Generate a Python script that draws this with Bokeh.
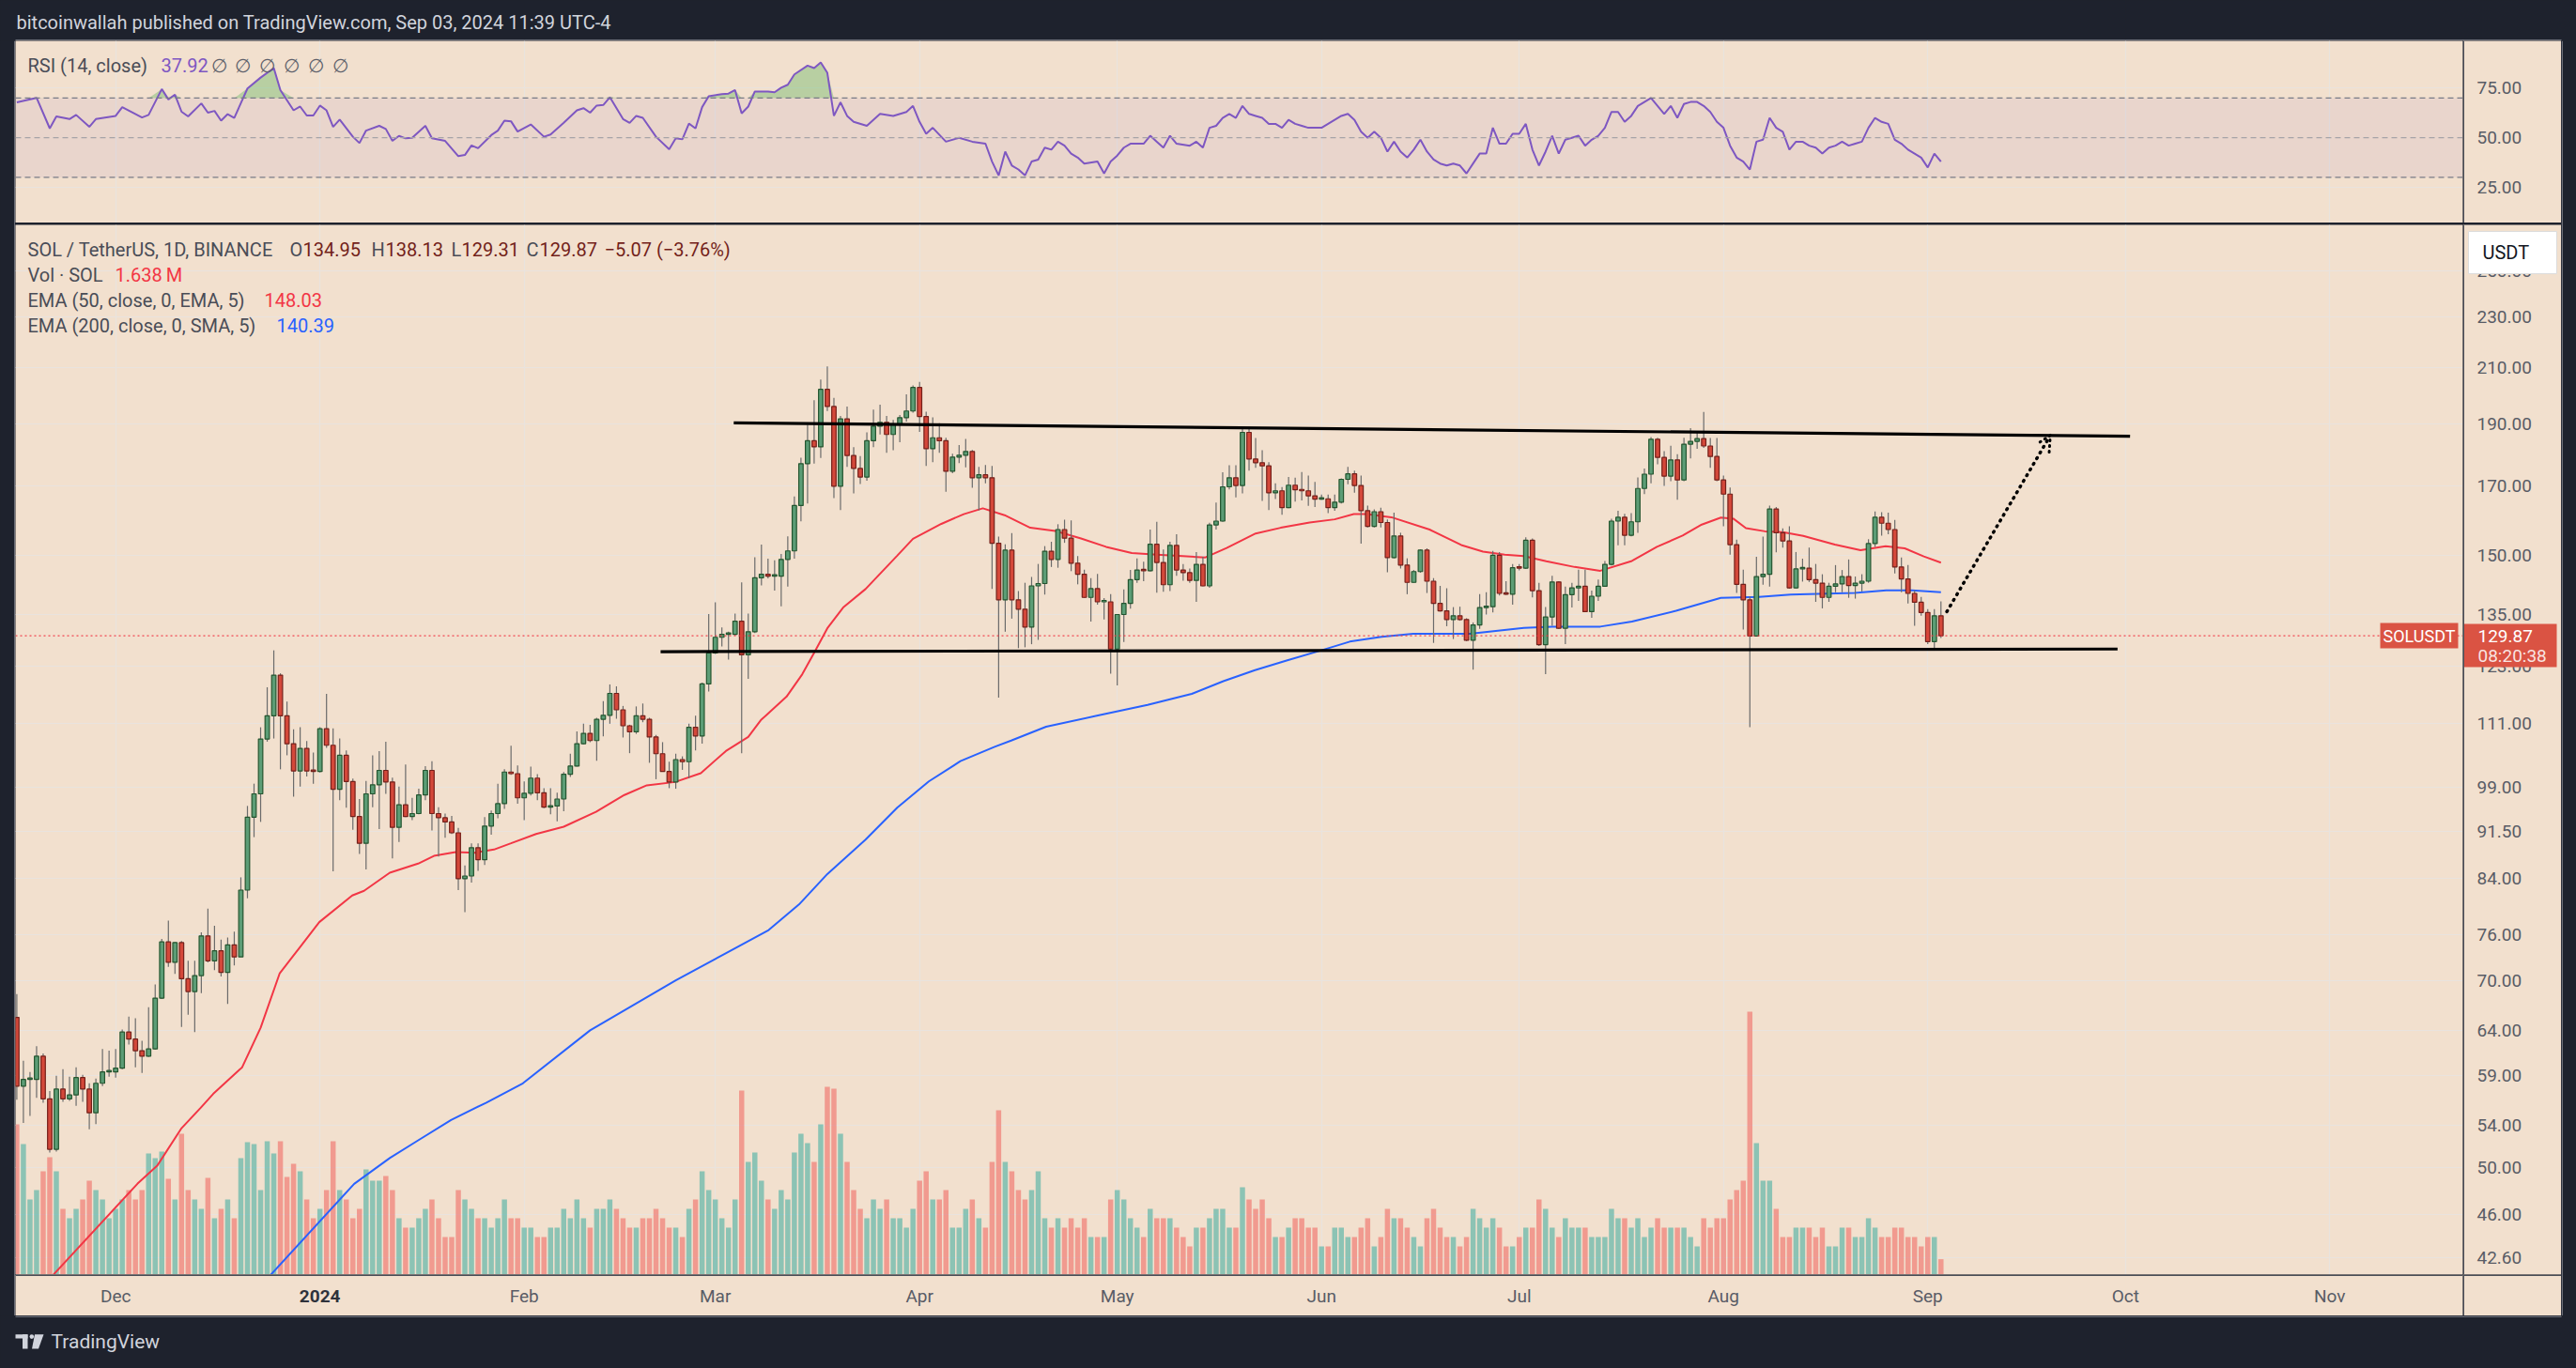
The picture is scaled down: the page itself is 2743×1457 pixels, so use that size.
import numpy as np
import pandas as pd
from bokeh.plotting import figure
from bokeh.models import (Range1d, FixedTicker, Span, BoxAnnotation, Label, Arrow, OpenHead,
                          ColumnDataSource, LinearScale)
from bokeh.layouts import column, row
from bokeh.embed import file_html
from bokeh.resources import INLINE
from bokeh.core.properties import value

# ---------------- data ----------------
start_date = "2023-11-16"
first_open = 65.5
closes = [57.9, 58.6, 58.6, 61.1, 56.6, 51.7, 57.6, 56.6, 57.0, 58.8, 57.6, 55.2, 58.2, 59.4, 59.4,
          59.8, 63.8, 63.0, 61.7, 61.1, 61.9, 67.8, 75.0, 72.3, 74.9, 70.2, 68.6, 70.6, 75.8, 72.5,
          73.8, 71.0, 74.6, 73.0, 82.3, 93.8, 97.8, 107.9, 112.5, 121.0, 112.5, 107.0, 101.9, 106.1, 101.9, 101.8,
          109.9, 106.7, 98.6, 104.8, 100.0, 93.9, 89.5, 97.8, 99.4, 102.0, 99.9, 92.1, 95.9, 93.9,
          94.4, 97.6, 102.0, 94.4, 93.7, 93.0, 91.2, 84.0, 84.4, 88.8, 86.9, 92.3, 94.4, 96.1, 101.7,
          101.4, 97.1,
          97.9, 100.6, 98.0, 95.5, 95.7, 96.9, 101.3, 102.8, 107.0, 109.0, 107.6, 111.8, 112.6, 117.1,
          113.7, 110.5, 109.3, 112.5, 111.8, 108.3, 105.1, 101.8, 99.9, 104.0, 103.6, 110.2, 108.5, 119.1, 125.9,
          129.5, 130.2, 130.2, 133.3, 125.5, 130.8, 144.1, 145.0, 144.5, 144.5, 148.9, 151.2, 164.0, 176.8,
          184.2, 182.2, 202.0, 195.9, 169.8, 191.6, 179.4, 175.3, 172.6, 184.2, 189.1, 190.4, 186.3, 189.8,
          192.0, 194.3, 202.7,
          192.4, 181.6, 185.2, 184.2, 174.4, 178.9, 179.5, 180.7, 172.4, 173.3, 172.4, 153.3, 138.5, 151.4,
          138.5, 136.2, 131.9, 142.0, 142.6, 151.1, 148.9, 157.1, 154.7, 147.9, 145.0, 139.1, 141.3, 138.0,
          138.0, 126.8,
          134.9, 137.6, 143.6, 146.1, 145.9, 153.0, 148.1, 142.3, 152.7, 146.1, 145.4, 143.4, 147.6, 142.0,
          158.4, 159.5, 169.6, 172.4, 170.0, 187.0, 178.3, 177.1, 176.1, 167.8, 168.4, 163.4, 170.1, 168.7,
          168.4, 166.9, 165.9,
          166.0, 163.4, 165.0, 171.9, 173.6, 170.0, 162.5, 158.0, 162.2, 159.1, 149.4, 155.3, 147.4, 142.9,
          145.7, 151.4, 143.2, 137.6, 135.8, 133.7, 134.6, 133.7, 128.8, 132.4, 136.6, 136.8, 150.0, 140.1,
          139.9, 146.7,
          146.6, 154.1, 140.8, 127.8, 134.3, 143.0, 131.6, 139.8, 141.5, 141.9, 135.6, 139.4, 141.9, 147.6,
          159.5, 160.6, 155.5, 159.3, 169.1, 173.5, 184.7, 178.8, 172.9, 178.0, 171.7, 183.1, 184.0, 184.9,
          182.5, 179.1, 171.7,
          167.4, 152.9, 142.4, 138.5, 129.8, 144.4, 145.0, 163.0, 156.2, 153.9, 141.5, 146.4, 146.6, 143.6,
          142.7, 139.1, 141.9, 142.5, 144.4, 142.1, 142.7, 143.2, 153.2, 160.6, 158.9, 157.1, 146.9, 143.8,
          140.1, 137.9, 135.4,
          128.5, 134.6, 129.87]
highs = [68.3, 60.6, 59.4, 62.2, 61.4, 57.4, 59.0, 59.7, 58.9, 59.9, 59.1, 58.2, 58.7, 61.9, 61.7,
         61.9, 64.1, 65.6, 65.4, 62.8, 66.7, 69.5, 75.4, 77.9, 75.0, 75.1, 72.5, 72.5, 76.3, 79.6,
         77.2, 75.3, 75.6, 76.4, 84.2, 95.7, 99.6, 110.2, 118.4, 126.5, 121.4, 115.4, 109.8, 110.2, 107.5, 105.3,
         110.2, 117.0, 110.0, 108.0, 105.7, 100.5, 96.9, 100.1, 104.8, 105.6, 107.4, 100.7, 99.1, 103.1,
         97.1, 98.7, 102.8, 103.7, 95.5, 94.4, 94.0, 92.0, 86.0, 89.5, 89.5, 93.8, 94.9, 99.6, 102.2,
         106.6, 102.9,
         100.0, 102.7, 101.3, 98.8, 98.8, 98.0, 101.7, 105.1, 109.4, 110.9, 110.7, 112.1, 115.5, 119.0,
         118.6, 114.5, 110.7, 114.4, 115.0, 112.1, 108.7, 107.3, 103.6, 105.1, 104.6, 110.9, 112.5, 119.4, 135.0,
         137.9, 131.8, 130.8, 135.1, 142.9, 135.1, 149.5, 152.9, 149.1, 148.7, 150.4, 155.2, 166.7, 178.7,
         189.6, 198.1, 205.6, 210.5, 198.9, 192.6, 195.9, 182.1, 179.2, 187.0, 194.8, 196.5, 192.6, 191.2,
         192.9, 200.2, 203.4,
         204.7, 194.1, 192.1, 190.1, 185.2, 180.0, 182.8, 184.8, 181.2, 175.8, 176.4, 176.1, 155.1, 153.0,
         156.1, 140.7, 142.8, 144.3, 147.7, 152.5, 153.7, 158.6, 159.9, 159.7, 149.8, 146.2, 144.0, 145.1,
         138.9, 139.9,
         135.0, 141.1, 146.1, 149.2, 148.3, 157.1, 159.3, 151.6, 153.7, 155.8, 147.7, 146.5, 150.9, 149.6,
         159.0, 164.9, 174.1, 176.3, 176.3, 188.4, 188.8, 185.1, 181.1, 177.3, 170.7, 169.5, 172.6, 172.4,
         174.2, 173.1, 171.1,
         167.3, 167.3, 167.3, 172.2, 175.8, 174.6, 173.1, 164.0, 162.9, 163.4, 160.0, 161.9, 156.2, 149.2,
         146.1, 151.6, 151.9, 144.0, 142.0, 141.4, 136.7, 136.8, 134.0, 133.0, 139.9, 140.4, 151.2, 150.9,
         143.2, 147.7,
         147.7, 154.9, 154.6, 142.8, 136.7, 144.6, 143.2, 141.8, 142.8, 146.2, 146.2, 140.8, 143.6, 148.5,
         160.2, 162.5, 161.6, 161.8, 172.5, 175.3, 185.4, 185.2, 180.8, 182.6, 179.8, 185.2, 188.4, 187.0,
         194.0, 185.1, 185.1,
         173.1, 169.4, 154.3, 146.2, 139.4, 149.6, 155.1, 164.0, 163.6, 157.4, 158.0, 150.9, 149.1, 152.1,
         147.7, 145.0, 142.8, 147.4, 146.1, 148.9, 144.4, 145.0, 154.4, 162.3, 162.1, 161.9, 159.8, 149.4,
         147.4, 140.9, 139.2,
         136.2, 136.2, 138.13]
lows = [56.5, 54.2, 54.9, 56.7, 56.2, 51.4, 51.5, 56.3, 56.4, 55.9, 56.3, 53.6, 54.1, 57.9, 58.9,
        58.8, 59.7, 62.4, 59.9, 59.3, 61.0, 61.8, 67.7, 71.7, 70.8, 64.4, 65.8, 63.8, 68.4, 72.3,
        71.3, 70.5, 67.1, 71.9, 73.0, 81.1, 90.5, 93.0, 107.4, 108.0, 102.2, 104.8, 97.3, 99.1, 100.9, 99.6,
        101.6, 106.2, 85.1, 96.7, 95.4, 91.7, 87.8, 85.4, 95.5, 91.8, 97.8, 87.1, 89.7, 93.8,
        93.3, 94.3, 96.7, 91.6, 87.4, 90.4, 91.0, 82.3, 79.1, 83.4, 85.2, 86.1, 90.9, 93.6, 95.2,
        101.2, 96.1,
        93.3, 97.5, 96.7, 95.3, 94.3, 93.1, 94.8, 100.8, 102.7, 106.9, 107.3, 103.8, 108.4, 110.9,
        111.9, 108.2, 105.2, 108.9, 111.2, 103.4, 100.4, 101.8, 98.8, 98.7, 102.1, 100.6, 105.7, 107.0, 117.5,
        125.7, 127.4, 124.4, 129.9, 105.2, 120.2, 130.5, 142.1, 143.9, 140.8, 136.9, 141.8, 149.1, 159.4,
        164.6, 176.8, 178.6, 194.3, 166.2, 162.7, 175.8, 167.6, 170.5, 171.5, 182.1, 186.3, 180.3, 181.1,
        183.7, 190.7, 193.7,
        187.2, 176.1, 177.3, 180.3, 168.1, 173.8, 177.0, 175.6, 169.3, 162.6, 170.7, 141.2, 116.2, 130.8,
        133.9, 127.0, 127.2, 127.9, 128.9, 139.8, 146.9, 146.7, 153.4, 145.8, 142.4, 139.0, 133.2, 137.3,
        133.7, 121.3,
        118.8, 128.4, 136.3, 142.8, 143.2, 145.7, 140.3, 140.5, 140.7, 144.6, 143.3, 142.8, 138.0, 141.9,
        141.5, 157.1, 159.3, 168.8, 166.4, 167.6, 174.6, 175.5, 165.4, 162.7, 165.9, 161.3, 163.2, 165.2,
        165.5, 163.9, 163.6,
        165.7, 161.8, 162.5, 164.6, 170.4, 167.8, 153.2, 157.7, 157.7, 157.7, 145.5, 149.2, 146.5, 139.9,
        142.8, 145.4, 140.2, 128.2, 135.6, 132.1, 129.1, 133.4, 128.6, 122.2, 131.5, 134.9, 135.4, 139.6,
        139.7, 137.3,
        146.0, 146.4, 139.1, 127.5, 121.2, 132.2, 131.4, 127.9, 136.6, 138.2, 135.6, 134.1, 138.2, 141.8,
        147.3, 152.7, 152.7, 155.2, 156.2, 167.4, 170.7, 176.6, 169.9, 171.3, 165.7, 171.3, 178.5, 181.6,
        181.9, 175.5, 171.3,
        158.0, 150.2, 140.2, 131.3, 110.2, 129.7, 142.3, 141.8, 150.8, 152.1, 141.3, 141.3, 143.1, 143.0,
        138.0, 136.4, 138.0, 140.4, 140.4, 139.0, 138.8, 140.6, 142.8, 152.3, 155.4, 155.8, 145.2, 140.4,
        137.6, 132.2, 134.6,
        127.9, 127.0, 129.31]
volumes_m = [16, 13.9, 8, 9, 11, 12.5, 11, 7, 6, 7, 8, 10, 9, 8, 6,
             7, 8, 9, 8, 9, 12.9, 12.4, 13.1, 10.2, 8, 15, 9, 8, 7, 10.3, 6, 7, 8, 6, 12.4,
             14.1, 13.9, 9, 14.2, 12.9, 14.2, 10.4, 11.8, 11, 8, 6,
             7, 9, 14.2, 9, 8, 6, 7, 11.2, 10, 10, 10.5, 9, 6, 5, 5, 6, 7, 8, 6, 4,
             4, 9, 8, 7, 6, 6, 5, 6, 8, 6, 6,
             5, 5, 4, 4, 5, 5, 7, 6, 8, 6, 5, 7, 7, 8, 7, 6, 5, 5, 6, 6, 7, 6, 5, 5, 4, 7, 8, 11, 9,
             8, 6, 5, 8, 19.6, 12, 13, 10, 8, 7, 9, 8, 13, 15, 14, 12, 16, 20, 19.8, 15,
             12, 9, 7, 6, 8, 7, 8, 6, 6, 5, 7,
             10, 11, 8, 8, 9, 5, 5, 7, 8, 6, 5, 12, 17.5, 12, 11, 9, 8, 9, 11, 6, 5, 6, 5, 6, 5, 6, 4, 4, 4, 8,
             9, 8, 6, 5, 4, 7, 6, 6, 6, 5, 4, 3, 5, 5, 6, 7, 7, 5, 5, 9.3, 8, 7, 8, 6, 4, 4, 5, 6, 6, 5, 5,
             3, 3, 5, 5, 4, 4, 5, 6, 3, 4, 7, 6, 6, 5, 4, 3, 6, 7, 5, 4, 4, 3, 4, 7, 6, 5, 6, 5, 3, 3,
             4, 5, 5, 8, 7, 5, 4, 6, 5, 5, 5, 4, 4, 4, 7, 6, 6, 5, 6, 4, 5, 6, 5, 5, 5, 5, 4, 3, 6, 5, 6,
             6, 8, 9, 10, 28, 14, 10, 10, 7, 4, 4, 5, 5, 5, 4, 5, 3, 3, 5, 5, 4, 4, 6, 5, 4, 4, 5, 5, 4, 4, 3,
             4, 4, 1.638]

# indicator lines (day offset from 2023-12-01, value)
ema50_day = [-10, 3.3, 6.3, 10, 12.9, 14.8, 19.2, 22, 24.9, 27.8, 30.9, 35.9, 37.7, 41.6, 45.9, 48.3, 51.6,
             54.5, 57.4, 60, 63.8, 68, 72.9, 77.2, 80.6, 84.9, 88.8, 92.6, 96, 97.9, 101.8, 104.2, 106.1, 108,
             110.4, 113.8, 118.6, 121, 125.3, 128.7, 131.6, 134.9, 138.8, 142.6, 146.5, 150.3, 154.2, 158,
             161.9, 165.3, 168.6, 173, 176.8, 181.2, 185, 187.9, 189.8, 193.6, 199.4, 204.2, 207.5, 210.8,
             213.7, 217.1, 221.4, 225.3, 230.1, 233.9, 237.8, 240.7, 243.6, 245.5, 247.4, 250.3, 253, 256.1,
             260.9, 264.8, 268.6, 271.5, 274.4, 277]
ema50_val = [41.0, 48.6, 50.2, 53.7, 55.7, 57.1, 59.9, 64.3, 70.9, 74.1, 77.7, 81.5, 82.2, 84.9, 86.3, 87.5, 88.1,
             88.0, 88.5, 89.5, 91.0, 92.2, 94.7, 97.6, 99.3, 99.9, 101.5, 105.6, 108.3, 111.6, 116.4, 121.2, 126.2,
             131.6, 136.6, 141.2, 149.9, 154.5, 158.7, 161.5, 163.2, 161.2, 157.6, 156.7, 154.6, 152.3, 150.6,
             150.2, 149.8, 149.4, 152.0, 156.0, 157.6, 159.1, 160.0, 161.5, 161.5, 160.6, 157.1, 152.8, 151.0,
             150.2, 149.8, 148.4, 146.9, 145.9, 148.5, 152.3, 155.4, 158.5, 160.5, 160.2, 157.5, 156.6, 156.4,
             155.3, 152.9, 151.4, 152.5, 151.9, 149.7, 148.03]
ema200_day = [23.0, 36.2, 41.6, 45.8, 50.9, 56.2, 61.8, 72, 85, 99.1, 103.7, 108, 113.8, 118.6, 123.4, 128.2,
              133.4, 135.9, 141.2, 148.9, 156.6, 163.3, 168.1, 172.9, 177.7, 182.5, 187.3, 192.1, 196.9, 205.5,
              213.7, 218, 225.3, 230.1, 236.8, 243.6, 249.4, 254.2, 263.9, 268.7, 272.6, 277]
ema200_val = [41.0, 48.6, 50.9, 52.5, 54.5, 56.2, 58.2, 64.0, 70.0, 76.6, 80.2, 84.7, 90.1, 95.4, 100.0, 103.7,
              106.4, 107.6, 110.3, 112.5, 114.7, 117.0, 119.7, 122.1, 124.2, 126.3, 128.5, 129.6, 130.3, 130.3,
              131.7, 132.0, 132.0, 133.2, 135.8, 139.0, 139.2, 139.8, 140.2, 140.9, 140.9, 140.39]

rsi_day = [-15, -12, -10, -9, -7, -6, -4, -3, 0, 1, 4, 5, 7, 8, 9, 10, 11, 13, 14, 15, 16, 17, 18, 20, 22, 24,
           25, 27, 28, 29, 30, 31, 32, 33, 34, 36, 37, 38, 40, 41, 42, 43, 44, 45, 47, 48, 50, 52, 53, 54, 55,
           57, 58, 59, 60, 61, 63, 65, 66, 68, 70, 71, 72, 73, 74, 75, 77, 78, 79, 80, 82, 84, 85, 86, 87, 88,
           89, 90, 92, 93, 94, 95, 96, 97, 99, 100, 101, 102, 103, 105, 106, 107, 108, 109, 110, 111,
           112, 114, 116, 118, 120, 121, 122, 123, 124, 126, 128, 130, 132, 133, 134, 135, 136, 137, 138, 139,
           140, 141, 142, 143, 144, 145, 146, 147, 149, 150, 151, 152, 153, 154, 156, 157, 158, 159, 160, 161,
           163, 164, 165, 166, 167, 168, 169, 170, 171, 172, 173, 174, 175, 176, 177, 178, 179, 180, 181, 182,
           183, 184, 186, 187, 188, 189, 190, 191, 192, 193, 194, 195, 196, 197, 198, 199, 200, 201, 202, 203,
           204, 205, 206, 207, 208, 209, 210, 211, 212, 213, 214, 215, 216, 217, 218, 219, 220, 221, 222, 223,
           224, 225, 226, 227, 228, 229, 230, 231, 232, 233, 234, 235, 236, 237, 238, 239, 240, 241, 242, 243,
           244, 245, 246, 247, 248, 249, 250, 251, 252, 253, 254, 255, 256, 257, 258, 259, 260, 261, 262, 263,
           264, 265, 266, 267, 268, 269, 270, 271, 272, 273, 274, 275, 276, 277]
rsi_val = [67.8, 70.1, 54.7, 60.7, 59.4, 61.5, 55.5, 59.4, 61, 65.4, 60.2, 61.5, 74.5, 69.3, 71.7, 63.1, 60.7,
           67.3, 62.6, 63.5, 58.6, 61.9, 60, 74.8, 80.3, 85.1, 74, 63.8, 65.7, 61.2, 61.2, 66.2, 63.8, 55.5,
           59.1, 50.5, 47.3, 53.6, 56, 54.4, 48.4, 50.9, 49.7, 50, 56, 49.7, 48.4, 40.7, 41.3, 46.1, 44.7, 51.3,
           53.6, 58.6, 58.3, 53.1, 56.7, 50.5, 51.6, 57.5, 63.8, 64.9, 62.6, 66.2, 66.5, 70.4, 59.4, 57.5, 61,
           60, 50.5, 44.2, 49.7, 49.2, 57.1, 54.7, 65.4, 70.9, 72, 72.2, 74, 62.3, 65.7, 73.3, 73.3, 72.9, 75.2,
           76.7, 81.9, 86.3, 85.1, 87.9, 82.7, 61, 67.8, 61,
           58, 56, 62, 61, 63, 66, 58, 52, 55, 48, 50, 48, 47, 38, 31, 43, 36, 34, 31, 38,
           39, 45, 44, 48, 46, 42, 40, 37, 38, 32, 38, 41, 45, 47, 47, 51, 48, 45, 51, 47,
           46, 48, 45, 55, 56, 60, 62, 60, 66, 62, 61, 60, 57, 57, 55, 59, 57, 56, 55, 55,
           55, 57, 61, 62, 59, 53, 50, 53, 50, 43, 48, 43, 40, 44, 49, 43, 39, 37, 36, 37,
           36, 32, 37, 42, 42, 55, 47, 47, 52, 52, 57, 44, 36, 43, 51, 42, 49, 50, 51, 46,
           49, 51, 55, 63, 63, 58, 61, 66, 68, 70, 66, 62, 66, 60, 67, 68, 68, 66, 63, 58,
           55, 46, 40, 38, 34, 48, 49, 60, 55, 53, 44, 48, 48, 46, 45, 42, 45, 46, 48, 46,
           47, 48, 55, 60, 58, 57, 49, 47, 44, 42, 40, 35, 42, 37.92]

price_ticks = [42.6, 46, 50, 54, 59, 64, 70, 76, 84, 91.5, 99, 111, 123, 135, 150, 170, 190, 210, 230, 250]
rsi_ticks = [25, 50, 75]
month_labels = ["Dec", "2024", "Feb", "Mar", "Apr", "May", "Jun", "Jul", "Aug", "Sep", "Oct", "Nov"]

# user drawings (day offset, price)
upper_line_x = [93.8, 305.7]
upper_line_y = [190.2, 185.7]
lower_line_x = [82.7, 303.8]
lower_line_y = [126.2, 126.8]
arrow_x = [277.9, 293.6]
arrow_y = [135.6, 186.0]
last_price = 129.87

assert len(closes) == len(highs) == len(lows) == len(volumes_m) == 293
assert len(rsi_day) == len(rsi_val)

# ---------------- derived ----------------
base = pd.Timestamp("2023-12-01")
dates = pd.date_range(start_date, periods=len(closes), freq="D")
day = np.asarray((dates - base).days, dtype=float)
c = np.array(closes)
o = np.array([first_open] + closes[:-1])
h = np.array(highs)
l = np.array(lows)
up = c >= o
top = np.maximum(o, c)
bot = np.minimum(o, c)
top = np.maximum(top, bot * 1.0025)
month_starts = pd.date_range("2023-12-01", "2024-11-01", freq="MS")
month_x = [int(v) for v in (month_starts - base).days]

BG = "#f2e0ce"
DARK = "#1e222d"
GRID = "#e9e3de"
AXC = "#595c66"
LEG = "#4a4d57"
EDGE = "#4a4d56"
BORDER = "#6b6e78"
FONT = "Roboto"
W_FRAME = 2606
W_AX = 105
H_MAIN = 1118
XR = Range1d(-15.2, 356.2)
YR = Range1d(41.30, 271.3)

def lab(fig, x, y, text, color=LEG, size="20px", **kw):
    kw.setdefault("x_units", "screen")
    kw.setdefault("y_units", "screen")
    fig.add_layout(Label(x=x, y=y, text=text, text_color=color, text_font=FONT,
                         text_font_size=size, text_baseline="middle", **kw))

def pane(w, hgt, xr, yr, **kw):
    f = figure(width=w, height=hgt, x_range=xr, y_range=yr, x_axis_location=None,
               y_axis_location=None, toolbar_location=None, output_backend="svg",
               background_fill_color=BG, border_fill_color=BG, outline_line_color=None,
               min_border=0, **kw)
    return f

# ---------------- main pane ----------------
main = pane(W_FRAME, H_MAIN, XR, YR, y_axis_type="log")
main.extra_y_ranges = {"vol": Range1d(0, 111.8)}
main.extra_y_scales = {"vol": LinearScale()}
main.xgrid.ticker = FixedTicker(ticks=month_x)
main.ygrid.ticker = FixedTicker(ticks=price_ticks)
main.grid.grid_line_color = GRID
main.grid.grid_line_width = 1.2

vsrc = ColumnDataSource(dict(x=day, v=volumes_m,
                             col=["#26a69a" if u else "#ef5350" for u in up]))
main.vbar(x="x", top="v", bottom=0, width=0.78, fill_color="col", line_color=None,
          fill_alpha=0.5, y_range_name="vol", source=vsrc)

main.line(ema200_day, ema200_val, line_color="#2962ff", line_width=2)
main.line(ema50_day, ema50_val, line_color="#f23645", line_width=2)

main.add_layout(Span(location=last_price, dimension="width", line_color="#f23645",
                     line_dash="2 3", line_width=1.2, line_alpha=0.9))

csrc = ColumnDataSource(dict(x=day, h=h, l=l, top=top, bot=bot,
                             fill=["#5c9d76" if u else "#d4483a" for u in up],
                             edge=["#24552f" if u else "#74201a" for u in up]))
main.segment(x0="x", y0="h", x1="x", y1="l", line_color="#6b6b6b", line_width=1.2, source=csrc)
main.vbar(x="x", top="top", bottom="bot", width=0.66, fill_color="fill", line_color="edge",
          line_width=1.2, source=csrc)

main.line(upper_line_x, upper_line_y, line_color="black", line_width=3.2)
main.line(lower_line_x, lower_line_y, line_color="black", line_width=3.2)
main.add_layout(Arrow(x_start=arrow_x[0], y_start=arrow_y[0], x_end=arrow_x[1], y_end=arrow_y[1],
                      line_color="black", line_width=3.5, line_dash="1 6", line_cap="round",
                      end=OpenHead(size=16, line_width=3, line_color="black", line_dash="1 5",
                                   line_cap="round")))

MAROON = "#731f1a"
lab(main, 13, 1092, "SOL / TetherUS, 1D, BINANCE")
lab(main, 292, 1092, "O")
lab(main, 306, 1092, "134.95", MAROON)
lab(main, 379, 1092, "H")
lab(main, 394, 1092, "138.13", MAROON)
lab(main, 464, 1092, "L")
lab(main, 475, 1092, "129.31", MAROON)
lab(main, 544, 1092, "C")
lab(main, 558, 1092, "129.87", MAROON)
lab(main, 627, 1092, "\u22125.07 (\u22123.76%)", MAROON)
lab(main, 13, 1065, "Vol \u00b7 SOL")
lab(main, 106, 1065, "1.638\u2009M", "#f23645")
lab(main, 13, 1038, "EMA (50, close, 0, EMA, 5)")
lab(main, 265, 1038, "148.03", "#f23645")
lab(main, 13, 1011, "EMA (200, close, 0, SMA, 5)")
lab(main, 278, 1011, "140.39", "#2962ff")
main.add_layout(Label(x=W_FRAME - 5, y=last_price, x_units="screen", y_units="data", text="SOLUSDT",
                      text_font=FONT, text_font_size="18px", text_color="white", text_align="right",
                      text_baseline="middle", background_fill_color="#da5343", padding=3))

# price scale strip (same log mapping as the main pane)
main_ax = pane(W_AX, H_MAIN, Range1d(0, W_AX), YR, y_axis_type="log")
main_ax.grid.visible = False
main_ax.extra_y_ranges = {"px": Range1d(0, H_MAIN)}
main_ax.extra_y_scales = {"px": LinearScale()}
main_ax.text(x=np.full(len(price_ticks), 15.0), y=price_ticks,
             text=[f"{t:.2f}" for t in price_ticks], text_font=value(FONT),
             text_font_size="19px", text_color=AXC, text_baseline="middle")
main_ax.add_layout(Span(location=0.75, dimension="height", line_color=EDGE, line_width=1.5))
main_ax.quad(left=[6], right=[100], bottom=[1066], top=[1111], fill_color="white",
             line_color="#dcdcdc", y_range_name="px")
main_ax.text(x=[21], y=[1089], text=["USDT"], text_font=value(FONT), text_font_size="20px",
             text_color="#131722", text_baseline="middle", y_range_name="px")
main_ax.quad(left=[1], right=[100], bottom=[647], top=[693], fill_color="#da5343",
             line_color=None, y_range_name="px")
main_ax.text(x=[16], y=[last_price], text=[f"{last_price:.2f}"], text_font=value(FONT),
             text_font_size="19px", text_color="white", text_baseline="middle")
main_ax.text(x=[16], y=[659], text=["08:20:38"], text_font=value(FONT), text_font_size="19px",
             text_color="white", text_alpha=0.85, text_baseline="middle", y_range_name="px")

# time scale strip
taxis = pane(W_FRAME, 44, XR, Range1d(0, 44))
taxis.grid.visible = False
reg_x = [mx for mx, lb in zip(month_x, month_labels) if lb != "2024"]
reg_l = [lb for lb in month_labels if lb != "2024"]
taxis.text(x=reg_x, y=np.full(len(reg_x), 21.0), text=reg_l, text_font=value(FONT),
           text_font_size="19px", text_color=AXC, text_align="center", text_baseline="middle")
yr_x = [mx for mx, lb in zip(month_x, month_labels) if lb == "2024"]
taxis.text(x=yr_x, y=[21.0], text=["2024"], text_font=value(FONT), text_font_size="19px",
           text_font_style="bold", text_color="#2f323b", text_align="center", text_baseline="middle")
taxis.add_layout(Span(location=43.25, dimension="width", line_color=EDGE, line_width=1.5))
corner = pane(W_AX, 44, Range1d(0, W_AX), Range1d(0, 44))
corner.grid.visible = False
corner.add_layout(Span(location=0.75, dimension="height", line_color=EDGE, line_width=1.5))
corner.add_layout(Span(location=43.25, dimension="width", line_color=EDGE, line_width=1.5))

# ---------------- RSI pane ----------------
RSI_YR = Range1d(7.05, 98.8)
rsi = pane(W_FRAME, 194, XR, RSI_YR)
rsi.ygrid.ticker = FixedTicker(ticks=[25, 75])
rsi.xgrid.ticker = FixedTicker(ticks=month_x)
rsi.grid.grid_line_color = GRID
rsi.grid.grid_line_width = 1.2

rsi.add_layout(BoxAnnotation(bottom=30, top=70, fill_color="#7e57c2", fill_alpha=0.08,
                             line_alpha=0))
for lvl, colr in ((70, "#787b86"), (50, "#a7a4a8"), (30, "#787b86")):
    rsi.add_layout(Span(location=lvl, dimension="width", line_color=colr, line_dash="6 4",
                        line_width=1.2))
rv = np.array(rsi_val)
rsi.varea(x=rsi_day, y1=np.full(len(rv), 70.0), y2=np.maximum(rv, 70.0),
          fill_color="#4caf50", fill_alpha=0.35)
rsi.line(rsi_day, rsi_val, line_color="#7e57c2", line_width=2)

lab(rsi, 13, 168, "RSI (14, close)")
lab(rsi, 155, 168, "37.92", "#7e57c2")
for k in range(6):
    lab(rsi, 208 + 25.9 * k, 168, "\u2205", "#5d606b")

rsi_ax = pane(W_AX, 194, Range1d(0, W_AX), RSI_YR)
rsi_ax.grid.visible = False
rsi_ax.text(x=np.full(len(rsi_ticks), 15.0), y=rsi_ticks, text=[f"{t:.2f}" for t in rsi_ticks],
            text_font=value(FONT), text_font_size="19px", text_color=AXC, text_baseline="middle")
rsi_ax.add_layout(Span(location=0.75, dimension="height", line_color=EDGE, line_width=1.5))

# ---------------- chrome ----------------
def blank(w, hgt, color=DARK):
    f = figure(width=w, height=hgt, x_range=Range1d(0, w), y_range=Range1d(0, hgt),
               toolbar_location=None, output_backend="svg", background_fill_color=color,
               border_fill_color=color, outline_line_color=None, min_border=0,
               x_axis_location=None, y_axis_location=None)
    f.grid.visible = False
    return f

header = blank(2743, 43)
header.add_layout(Label(x=17, y=20, text="bitcoinwallah published on TradingView.com, Sep 03, 2024 11:39 UTC-4",
                        text_color="#d1d4dc", text_font=FONT, text_font_size="20px",
                        text_baseline="middle"))
header.line([16, 2727], [0.75, 0.75], line_color=BORDER, line_width=1.5)
sep = blank(W_FRAME + W_AX, 2, "#474a53")
lsp = blank(16, 1358)
lsp.line([15.25, 15.25], [0, 1358], line_color=BORDER, line_width=1.5)
rsp = blank(16, 1358)
rsp.line([0.75, 0.75], [0, 1358], line_color=BORDER, line_width=1.5)
footer = blank(2743, 56)
footer.line([16, 2727], [55.25, 55.25], line_color=BORDER, line_width=1.5)
footer.quad(left=[16, 23.5], right=[29, 29], bottom=[32, 21], top=[36.3, 36.3],
            fill_color="#d1d4dc", line_color=None)
footer.circle(x=[33.3], y=[33.9], radius=2.3, fill_color="#d1d4dc", line_color=None)
footer.patch(x=[36.5, 46, 40.5, 33.5], y=[36.3, 36.3, 21, 21], fill_color="#d1d4dc", line_color=None)
footer.add_layout(Label(x=54, y=29, text="TradingView", text_color="#d1d4dc", text_font=FONT,
                        text_font_size="21px", text_baseline="middle"))

panel = column(row(rsi, rsi_ax), sep, row(main, main_ax), row(taxis, corner))
layout = column(header, row(lsp, panel, rsp), footer)

template = """{% block postamble %}<style>html, body { margin: 0 !important; padding: 0 !important; background: #1e222d; overflow: hidden; }</style>{% endblock %}"""
open("out.html", "w").write(file_html(layout, INLINE, template=template))
